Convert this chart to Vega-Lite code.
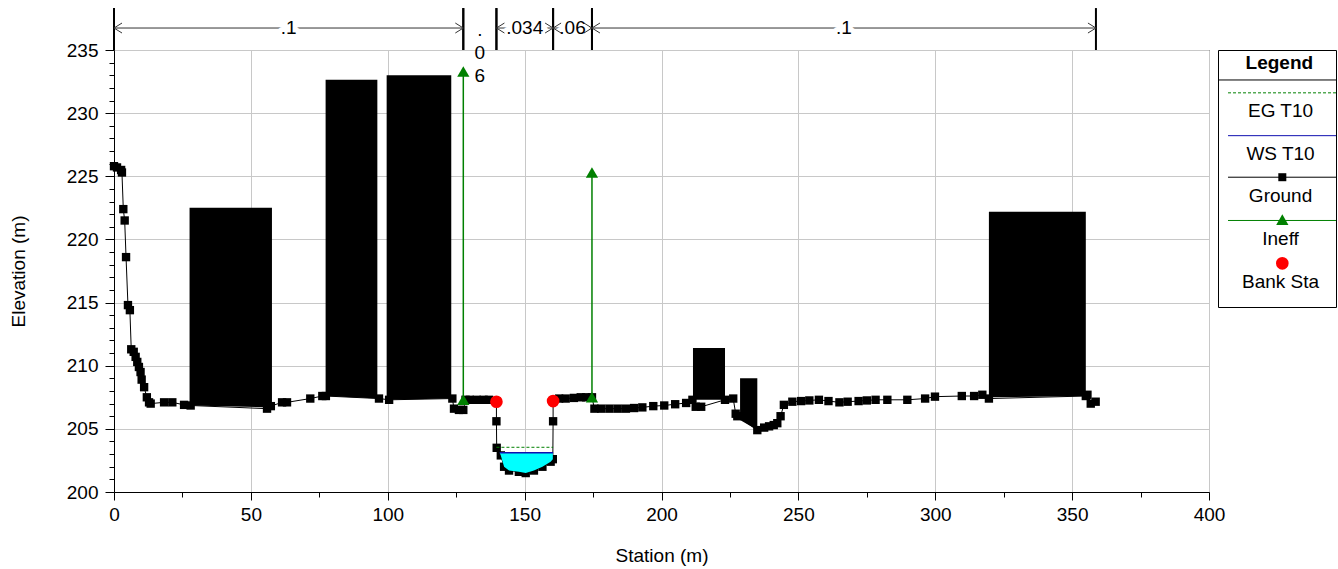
{
  "$schema": "https://vega.github.io/schema/vega-lite/v6.json",
  "autosize": {"type": "pad"},
  "padding": {"left": 8, "top": 6, "right": 1, "bottom": 3},
  "bounds": "flush",
  "spacing": 9,
  "config": {
    "font": "Liberation Sans",
    "view": {"stroke": "black", "strokeWidth": 1},
    "axis": {
      "labelFont": "Liberation Sans",
      "titleFont": "Liberation Sans",
      "labelFontSize": 19,
      "titleFontSize": 19,
      "titleFontWeight": "normal",
      "labelColor": "black",
      "titleColor": "black",
      "domainColor": "black",
      "tickColor": "black",
      "grid": true,
      "gridColor": "#c8c8c8",
      "gridWidth": 1
    }
  },
  "datasets": {
    "ground": [
      {"station": 0, "elev": 225.8}, {"station": 1.1, "elev": 225.7}, {"station": 2.6, "elev": 225.5},
      {"station": 2.9, "elev": 225.3}, {"station": 3.4, "elev": 222.4}, {"station": 3.9, "elev": 221.5},
      {"station": 4.4, "elev": 218.6}, {"station": 5.1, "elev": 214.8}, {"station": 5.8, "elev": 214.4},
      {"station": 6.3, "elev": 211.3}, {"station": 7.2, "elev": 211.1}, {"station": 7.9, "elev": 210.7},
      {"station": 8.5, "elev": 210.3}, {"station": 9.1, "elev": 209.9}, {"station": 9.7, "elev": 209.5},
      {"station": 10.1, "elev": 208.9}, {"station": 11.0, "elev": 208.3}, {"station": 12.0, "elev": 207.5},
      {"station": 12.8, "elev": 207.1}, {"station": 13.4, "elev": 207.0}, {"station": 18.3, "elev": 207.1},
      {"station": 21.3, "elev": 207.1}, {"station": 25.6, "elev": 206.9}, {"station": 28.0, "elev": 206.85},
      {"station": 55.9, "elev": 206.6}, {"station": 57.3, "elev": 206.8}, {"station": 61.4, "elev": 207.1},
      {"station": 63.2, "elev": 207.1}, {"station": 71.7, "elev": 207.4}, {"station": 76.1, "elev": 207.6},
      {"station": 77.4, "elev": 207.6}, {"station": 96.8, "elev": 207.4}, {"station": 100.5, "elev": 207.3},
      {"station": 123.6, "elev": 207.4}, {"station": 124.2, "elev": 206.6}, {"station": 126.0, "elev": 206.5},
      {"station": 127.6, "elev": 206.5}, {"station": 128.4, "elev": 207.3}, {"station": 130.0, "elev": 207.3},
      {"station": 132.5, "elev": 207.3}, {"station": 135.0, "elev": 207.3}, {"station": 137.0, "elev": 207.3},
      {"station": 139.7, "elev": 207.15}, {"station": 139.7, "elev": 205.6}, {"station": 139.8, "elev": 203.5},
      {"station": 141.3, "elev": 202.9}, {"station": 142.5, "elev": 202.0}, {"station": 144.3, "elev": 201.7},
      {"station": 147.9, "elev": 201.6}, {"station": 150.4, "elev": 201.5}, {"station": 153.4, "elev": 201.7},
      {"station": 156.5, "elev": 202.0}, {"station": 159.5, "elev": 202.4}, {"station": 160.3, "elev": 202.6},
      {"station": 160.4, "elev": 205.6}, {"station": 160.4, "elev": 207.2}, {"station": 162.6, "elev": 207.4},
      {"station": 165.0, "elev": 207.4}, {"station": 168.0, "elev": 207.45}, {"station": 170.5, "elev": 207.5},
      {"station": 172.5, "elev": 207.5}, {"station": 174.6, "elev": 207.5}, {"station": 175.5, "elev": 206.6},
      {"station": 178.0, "elev": 206.6}, {"station": 181.0, "elev": 206.6}, {"station": 184.0, "elev": 206.6},
      {"station": 187.0, "elev": 206.6}, {"station": 190.0, "elev": 206.65}, {"station": 193.0, "elev": 206.7},
      {"station": 197.0, "elev": 206.8}, {"station": 201.0, "elev": 206.85}, {"station": 205.0, "elev": 206.95},
      {"station": 209.0, "elev": 207.05}, {"station": 211.3, "elev": 207.3}, {"station": 212.5, "elev": 206.75},
      {"station": 214.5, "elev": 206.75}, {"station": 223.2, "elev": 207.3}, {"station": 226.2, "elev": 207.4},
      {"station": 227.1, "elev": 206.2}, {"station": 227.7, "elev": 206.0}, {"station": 235.0, "elev": 204.9},
      {"station": 237.5, "elev": 205.1}, {"station": 239.3, "elev": 205.2}, {"station": 241.0, "elev": 205.3},
      {"station": 242.3, "elev": 205.45}, {"station": 243.5, "elev": 206.0}, {"station": 244.7, "elev": 206.9},
      {"station": 247.8, "elev": 207.15}, {"station": 251.0, "elev": 207.2}, {"station": 254.0, "elev": 207.25},
      {"station": 257.5, "elev": 207.3}, {"station": 261.0, "elev": 207.2}, {"station": 265.0, "elev": 207.1},
      {"station": 268.0, "elev": 207.15}, {"station": 272.0, "elev": 207.2}, {"station": 275.0, "elev": 207.25},
      {"station": 278.2, "elev": 207.3}, {"station": 282.5, "elev": 207.3}, {"station": 289.8, "elev": 207.3},
      {"station": 296.3, "elev": 207.4}, {"station": 299.9, "elev": 207.55}, {"station": 309.7, "elev": 207.6},
      {"station": 314.2, "elev": 207.6}, {"station": 317.2, "elev": 207.7}, {"station": 319.6, "elev": 207.4},
      {"station": 355.0, "elev": 207.6}, {"station": 355.6, "elev": 207.7}, {"station": 356.8, "elev": 207.0},
      {"station": 358.6, "elev": 207.15}
    ],
    "obstructions": [
      {"obs": "1", "station": 27.6, "top": 222.5, "bottom": 206.85},
      {"obs": "1", "station": 57.7, "top": 222.5, "bottom": 206.7},
      {"obs": "2", "station": 77.3, "top": 232.65, "bottom": 207.6},
      {"obs": "2", "station": 96.2, "top": 232.65, "bottom": 207.4},
      {"obs": "3", "station": 99.6, "top": 233.0, "bottom": 207.3},
      {"obs": "3", "station": 123.2, "top": 233.0, "bottom": 207.4},
      {"obs": "4", "station": 211.5, "top": 211.4, "bottom": 207.3},
      {"obs": "4", "station": 223.2, "top": 211.4, "bottom": 207.3},
      {"obs": "5", "station": 228.7, "top": 209.0, "bottom": 205.7},
      {"obs": "5", "station": 235.0, "top": 209.0, "bottom": 204.9},
      {"obs": "6", "station": 319.6, "top": 222.2, "bottom": 207.5},
      {"obs": "6", "station": 355.0, "top": 222.2, "bottom": 207.6}
    ],
    "water": [
      {"station": 140.9, "ws": 203.1, "bed": 203.1},
      {"station": 141.3, "ws": 203.1, "bed": 202.9},
      {"station": 142.5, "ws": 203.1, "bed": 202.0},
      {"station": 144.3, "ws": 203.1, "bed": 201.7},
      {"station": 147.9, "ws": 203.1, "bed": 201.6},
      {"station": 150.4, "ws": 203.1, "bed": 201.5},
      {"station": 153.4, "ws": 203.1, "bed": 201.7},
      {"station": 156.5, "ws": 203.1, "bed": 202.0},
      {"station": 159.5, "ws": 203.1, "bed": 202.4},
      {"station": 160.3, "ws": 203.1, "bed": 202.6}
    ],
    "profiles": [
      {"profile": "EG T10", "from": 139.7, "to": 160.4, "elev": 203.54},
      {"profile": "WS T10", "from": 140.9, "to": 160.4, "elev": 203.1}
    ],
    "ineff": [
      {"station": 127.6, "base": 207.3, "top": 233.3},
      {"station": 174.6, "base": 207.5, "top": 225.3}
    ],
    "banks": [
      {"station": 139.7, "elev": 207.15},
      {"station": 160.4, "elev": 207.2}
    ],
    "manning": [
      {"start": 0, "end": 127.6, "n": 0.1},
      {"start": 127.6, "end": 139.7, "n": 0.06},
      {"start": 139.7, "end": 160.4, "n": 0.034},
      {"start": 160.4, "end": 174.6, "n": 0.06},
      {"start": 174.6, "end": 358.7, "n": 0.1}
    ],
    "legend": [
      {"item": "Legend"}, {"item": "EG T10"}, {"item": "WS T10"},
      {"item": "Ground"}, {"item": "Ineff"}, {"item": "Bank Sta"}
    ]
  },
  "hconcat": [
    {
      "width": 1095,
      "height": 442,
      "resolve": {"axis": {"x": "independent", "y": "independent"}},
      "layer": [
        {
          "data": {"name": "ground"},
          "mark": {"type": "line", "color": "black", "strokeWidth": 1},
          "encoding": {
            "x": {
              "field": "station", "type": "quantitative", "title": "Station (m)",
              "scale": {"domain": [0, 400], "nice": false, "zero": false},
              "axis": {
                "orient": "bottom",
                "values": [0, 25, 50, 75, 100, 125, 150, 175, 200, 225, 250, 275, 300, 325, 350, 375, 400],
                "labelExpr": "datum.value % 50 === 0 ? datum.label : ''",
                "tickSize": {"condition": {"test": "datum.value % 50 === 0", "value": 8}, "value": 5},
                "gridOpacity": {"condition": {"test": "datum.value % 50 === 0", "value": 1}, "value": 0},
                "labelPadding": 5,
                "titlePadding": 22,
                "labelFlush": false,
                "labelOverlap": false
              }
            },
            "y": {
              "field": "elev", "type": "quantitative", "title": "Elevation (m)",
              "scale": {"domain": [200, 235], "nice": false, "zero": false},
              "axis": {
                "orient": "left",
                "values": [200, 201, 202, 203, 204, 205, 206, 207, 208, 209, 210, 211, 212, 213, 214, 215, 216, 217, 218, 219, 220, 221, 222, 223, 224, 225, 226, 227, 228, 229, 230, 231, 232, 233, 234, 235],
                "labelExpr": "datum.value % 5 === 0 ? datum.label : ''",
                "tickSize": {"condition": {"test": "datum.value % 5 === 0", "value": 9}, "value": 5},
                "gridOpacity": {"condition": {"test": "datum.value % 5 === 0", "value": 1}, "value": 0},
                "labelPadding": 7,
                "titlePadding": 38,
                "labelOverlap": false
              }
            },
            "order": {"value": null}
          }
        },
        {
          "data": {"name": "ground"},
          "mark": {"type": "point", "shape": "square", "filled": true, "color": "black", "size": 70, "opacity": 1},
          "encoding": {
            "x": {"field": "station", "type": "quantitative", "axis": null},
            "y": {"field": "elev", "type": "quantitative", "axis": null}
          }
        },
        {
          "data": {"name": "obstructions"},
          "mark": {"type": "area", "color": "black", "opacity": 1},
          "encoding": {
            "x": {"field": "station", "type": "quantitative", "axis": null},
            "y": {"field": "top", "type": "quantitative", "axis": null},
            "y2": {"field": "bottom"},
            "detail": {"field": "obs", "type": "nominal"}
          }
        },
        {
          "data": {"name": "water"},
          "mark": {"type": "area", "color": "#00ffff", "opacity": 1},
          "encoding": {
            "x": {"field": "station", "type": "quantitative", "axis": null},
            "y": {"field": "ws", "type": "quantitative", "axis": null},
            "y2": {"field": "bed"}
          }
        },
        {
          "data": {"name": "profiles"},
          "transform": [{"filter": "datum.profile === 'WS T10'"}],
          "mark": {"type": "rule", "color": "#1010b0", "strokeWidth": 1.5},
          "encoding": {
            "x": {"field": "from", "type": "quantitative", "axis": null},
            "x2": {"field": "to"},
            "y": {"field": "elev", "type": "quantitative", "axis": null}
          }
        },
        {
          "data": {"name": "profiles"},
          "transform": [{"filter": "datum.profile === 'EG T10'"}],
          "mark": {"type": "rule", "color": "#008000", "strokeWidth": 1, "strokeDash": [3, 2]},
          "encoding": {
            "x": {"field": "from", "type": "quantitative", "axis": null},
            "x2": {"field": "to"},
            "y": {"field": "elev", "type": "quantitative", "axis": null}
          }
        },
        {
          "data": {"name": "ineff"},
          "mark": {"type": "rule", "color": "#008000", "strokeWidth": 1.5},
          "encoding": {
            "x": {"field": "station", "type": "quantitative", "axis": null},
            "y": {"field": "base", "type": "quantitative", "axis": null},
            "y2": {"field": "top"}
          }
        },
        {
          "data": {"name": "ineff"},
          "mark": {"type": "point", "shape": "triangle-up", "filled": true, "color": "#008000", "size": 150, "opacity": 1},
          "encoding": {
            "x": {"field": "station", "type": "quantitative", "axis": null},
            "y": {"field": "base", "type": "quantitative", "axis": null}
          }
        },
        {
          "data": {"name": "ineff"},
          "mark": {"type": "point", "shape": "triangle-up", "filled": true, "color": "#008000", "size": 150, "opacity": 1},
          "encoding": {
            "x": {"field": "station", "type": "quantitative", "axis": null},
            "y": {"field": "top", "type": "quantitative", "axis": null}
          }
        },
        {
          "data": {"name": "banks"},
          "mark": {"type": "point", "shape": "circle", "filled": true, "color": "#ff0000", "size": 160, "opacity": 1},
          "encoding": {
            "x": {"field": "station", "type": "quantitative", "axis": null},
            "y": {"field": "elev", "type": "quantitative", "axis": null}
          }
        },
        {
          "data": {"name": "manning"},
          "transform": [{"filter": "datum.end - datum.start >= 13"}],
          "mark": {"type": "rule", "color": "#333333", "strokeWidth": 1},
          "encoding": {
            "x": {"field": "start", "type": "quantitative", "axis": null},
            "x2": {"field": "end"},
            "y": {"datum": 236.74, "type": "quantitative", "axis": null}
          }
        },
        {
          "data": {"name": "manning"},
          "transform": [
            {"filter": "datum.end - datum.start >= 13"},
            {"calculate": "slice(toString(datum.n), 1)", "as": "label"},
            {"calculate": "(datum.start + datum.end) / 2", "as": "mid"}
          ],
          "mark": {"type": "text", "fontSize": 19, "fill": "white", "stroke": "white", "strokeWidth": 10, "strokeJoin": "round", "baseline": "middle", "align": "center"},
          "encoding": {
            "x": {"field": "mid", "type": "quantitative", "axis": null},
            "y": {"datum": 236.74, "type": "quantitative", "axis": null},
            "text": {"field": "label", "type": "nominal"}
          }
        },
        {
          "data": {"name": "manning"},
          "mark": {"type": "rule", "color": "black", "strokeWidth": 2},
          "encoding": {
            "x": {"field": "start", "type": "quantitative", "axis": null},
            "y": {"datum": 235, "type": "quantitative", "axis": null},
            "y2": {"datum": 238.32}
          }
        },
        {
          "data": {"name": "manning"},
          "mark": {"type": "rule", "color": "black", "strokeWidth": 2},
          "encoding": {
            "x": {"field": "end", "type": "quantitative", "axis": null},
            "y": {"datum": 235, "type": "quantitative", "axis": null},
            "y2": {"datum": 238.32}
          }
        },
        {
          "data": {"name": "manning"},
          "transform": [{"filter": "datum.end - datum.start >= 13"}],
          "mark": {"type": "point", "shape": "M1.6,-1L0,0L1.6,1", "filled": false, "stroke": "#333333", "strokeWidth": 1, "size": 100, "opacity": 1},
          "encoding": {
            "x": {"field": "start", "type": "quantitative", "axis": null},
            "y": {"datum": 236.74, "type": "quantitative", "axis": null}
          }
        },
        {
          "data": {"name": "manning"},
          "transform": [{"filter": "datum.end - datum.start >= 13"}],
          "mark": {"type": "point", "shape": "M-1.6,-1L0,0L-1.6,1", "filled": false, "stroke": "#333333", "strokeWidth": 1, "size": 100, "opacity": 1},
          "encoding": {
            "x": {"field": "end", "type": "quantitative", "axis": null},
            "y": {"datum": 236.74, "type": "quantitative", "axis": null}
          }
        },
        {
          "data": {"name": "manning"},
          "transform": [
            {"filter": "datum.end - datum.start >= 13"},
            {"calculate": "slice(toString(datum.n), 1)", "as": "label"},
            {"calculate": "(datum.start + datum.end) / 2", "as": "mid"}
          ],
          "mark": {"type": "text", "fontSize": 19, "color": "black", "baseline": "middle", "align": "center"},
          "encoding": {
            "x": {"field": "mid", "type": "quantitative", "axis": null},
            "y": {"datum": 236.74, "type": "quantitative", "axis": null},
            "text": {"field": "label", "type": "nominal"}
          }
        },
        {
          "data": {"name": "manning"},
          "transform": [
            {"filter": "datum.end - datum.start < 13"},
            {"calculate": "join(split(slice(toString(datum.n), 1), ''), '|')", "as": "label"},
            {"calculate": "(datum.start + datum.end) / 2", "as": "mid"}
          ],
          "mark": {"type": "text", "fontSize": 19, "color": "black", "baseline": "alphabetic", "align": "center", "lineBreak": "|", "lineHeight": 23},
          "encoding": {
            "x": {"field": "mid", "type": "quantitative", "axis": null},
            "y": {"datum": 236.1, "type": "quantitative", "axis": null},
            "text": {"field": "label", "type": "nominal"}
          }
        }
      ]
    },
    {
      "width": 118,
      "height": 257,
      "data": {"name": "legend"},
      "layer": [
        {
          "transform": [{"filter": "datum.item === 'Legend'"}],
          "mark": {"type": "text", "fontSize": 19, "fontWeight": "bold", "color": "black", "align": "center", "baseline": "middle"},
          "encoding": {
            "x": {"datum": 0.52, "type": "quantitative", "scale": {"domain": [0, 1]}, "axis": null},
            "y": {"field": "item", "type": "nominal", "bandPosition": 0.3,
                  "scale": {"type": "band", "domain": ["Legend", "EG T10", "WS T10", "Ground", "Ineff", "Bank Sta"], "paddingInner": 0, "paddingOuter": 0},
                  "axis": null},
            "text": {"field": "item", "type": "nominal"}
          }
        },
        {
          "transform": [{"filter": "datum.item === 'Legend'"}],
          "mark": {"type": "rule", "color": "black", "strokeWidth": 1},
          "encoding": {
            "x": {"datum": 0, "type": "quantitative"},
            "x2": {"datum": 1},
            "y": {"field": "item", "type": "nominal", "bandPosition": 0.7}
          }
        },
        {
          "transform": [{"filter": "datum.item !== 'Legend'"}],
          "mark": {"type": "text", "fontSize": 19, "color": "black", "align": "center", "baseline": "middle"},
          "encoding": {
            "x": {"datum": 0.53, "type": "quantitative"},
            "y": {"field": "item", "type": "nominal", "bandPosition": 0.42},
            "text": {"field": "item", "type": "nominal"}
          }
        },
        {
          "transform": [{"filter": "datum.item === 'EG T10'"}],
          "mark": {"type": "rule", "color": "#008000", "strokeWidth": 1, "strokeDash": [3, 2]},
          "encoding": {
            "x": {"datum": 0.085, "type": "quantitative"},
            "x2": {"datum": 1},
            "y": {"field": "item", "type": "nominal", "bandPosition": 0}
          }
        },
        {
          "transform": [{"filter": "datum.item === 'WS T10'"}],
          "mark": {"type": "rule", "color": "#1010b0", "strokeWidth": 1},
          "encoding": {
            "x": {"datum": 0.085, "type": "quantitative"},
            "x2": {"datum": 1},
            "y": {"field": "item", "type": "nominal", "bandPosition": 0}
          }
        },
        {
          "transform": [{"filter": "datum.item === 'Ground'"}],
          "mark": {"type": "rule", "color": "black", "strokeWidth": 1},
          "encoding": {
            "x": {"datum": 0.085, "type": "quantitative"},
            "x2": {"datum": 1},
            "y": {"field": "item", "type": "nominal", "bandPosition": -0.03}
          }
        },
        {
          "transform": [{"filter": "datum.item === 'Ground'"}],
          "mark": {"type": "point", "shape": "square", "filled": true, "color": "black", "size": 64, "opacity": 1},
          "encoding": {
            "x": {"datum": 0.545, "type": "quantitative"},
            "y": {"field": "item", "type": "nominal", "bandPosition": -0.03}
          }
        },
        {
          "transform": [{"filter": "datum.item === 'Ineff'"}],
          "mark": {"type": "rule", "color": "#008000", "strokeWidth": 1},
          "encoding": {
            "x": {"datum": 0.085, "type": "quantitative"},
            "x2": {"datum": 1},
            "y": {"field": "item", "type": "nominal", "bandPosition": -0.02}
          }
        },
        {
          "transform": [{"filter": "datum.item === 'Ineff'"}],
          "mark": {"type": "point", "shape": "triangle-up", "filled": true, "color": "#008000", "size": 150, "opacity": 1},
          "encoding": {
            "x": {"datum": 0.545, "type": "quantitative"},
            "y": {"field": "item", "type": "nominal", "bandPosition": -0.04}
          }
        },
        {
          "transform": [{"filter": "datum.item === 'Bank Sta'"}],
          "mark": {"type": "point", "shape": "circle", "filled": true, "color": "#ff0000", "size": 160, "opacity": 1},
          "encoding": {
            "x": {"datum": 0.545, "type": "quantitative"},
            "y": {"field": "item", "type": "nominal", "bandPosition": -0.02}
          }
        }
      ]
    }
  ]
}
